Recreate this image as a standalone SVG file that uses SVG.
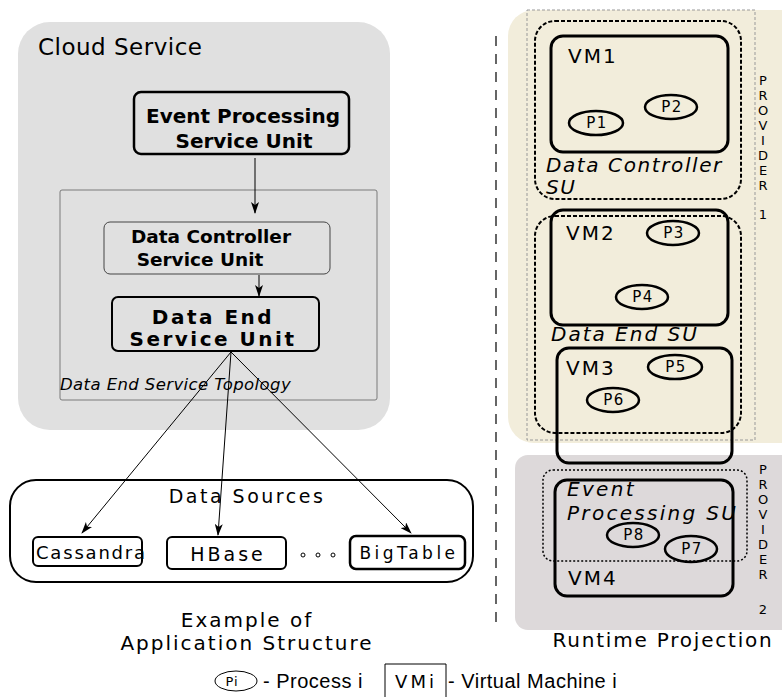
<svg xmlns="http://www.w3.org/2000/svg" width="782" height="697" viewBox="0 0 782 697">
<defs>
<marker id="arr" viewBox="0 0 12 8" refX="11" refY="4" markerWidth="12" markerHeight="8" markerUnits="userSpaceOnUse" orient="auto">
<path d="M0,0 L12,4 L0,8 L3,4 z" fill="#000"/>
</marker>
<style>
.t{font-family:"DejaVu Sans",Verdana,sans-serif;fill:#000}
.b{font-weight:bold}
.i{font-style:italic}
.vm{fill:none;stroke:#000;stroke-width:3}
.proc{fill:none;stroke:#000;stroke-width:2.5}
.pt{font-family:"DejaVu Sans",sans-serif;font-size:15px;letter-spacing:1.5px;text-anchor:middle}
.su{fill:none;stroke:#000;stroke-width:2;stroke-dasharray:4 2}
.conn{stroke:#000;stroke-width:1;fill:none;marker-end:url(#arr)}
.prov{font-family:"DejaVu Sans",sans-serif;font-size:13px;text-anchor:middle;fill:#000}
.lg{font-family:"Liberation Sans",Arial,sans-serif;font-size:20px;letter-spacing:0.5px}
</style>
</defs>
<rect width="782" height="697" fill="#fff"/>

<!-- Left: Cloud Service -->
<g id="cloud-service">
<rect x="18" y="22" width="372" height="408" rx="32" fill="#e0e0e0"/>
<text class="t" x="38" y="55" font-size="23" letter-spacing="0.5">Cloud Service</text>
</g>
<g id="topology">
<rect x="60" y="190" width="317" height="210" rx="2" fill="none" stroke="#7a7a7a" stroke-width="1"/>
<text class="t i" x="60" y="390" font-size="16.5" letter-spacing="0.4">Data End Service Topology</text>
</g>
<g id="event-processing-su">
<rect x="134" y="92" width="215" height="62" rx="7" fill="none" stroke="#000" stroke-width="2.5"/>
<text class="t b" x="243" y="123" font-size="20" text-anchor="middle">Event Processing</text>
<text class="t b" x="244" y="148" font-size="20" text-anchor="middle">Service Unit</text>
</g>
<g id="data-controller-su">
<rect x="104" y="222" width="226" height="52" rx="6" fill="none" stroke="#444" stroke-width="1"/>
<text class="t b" x="211" y="243" font-size="18.5" text-anchor="middle">Data Controller</text>
<text class="t b" x="200" y="266" font-size="18.5" text-anchor="middle">Service Unit</text>
</g>
<g id="data-end-su">
<rect x="112" y="297" width="207" height="54" rx="6" fill="none" stroke="#000" stroke-width="2"/>
<text class="t b" x="213" y="324" font-size="20" text-anchor="middle" letter-spacing="2.5">Data End</text>
<text class="t b" x="213" y="346" font-size="20" text-anchor="middle" letter-spacing="2.5">Service Unit</text>
</g>

<!-- Data sources -->
<g id="data-sources">
<rect x="10" y="480" width="463" height="102" rx="26" fill="none" stroke="#000" stroke-width="2"/>
<text class="t" x="247" y="503" font-size="19" text-anchor="middle" letter-spacing="2.5">Data Sources</text>
</g>
<g id="cassandra">
<rect x="33" y="537" width="109" height="29" rx="5" fill="none" stroke="#000" stroke-width="2"/>
<text class="t" x="36" y="559" font-size="18" letter-spacing="1.8">Cassandra</text>
</g>
<g id="hbase">
<rect x="167" y="537" width="119" height="32" rx="5" fill="none" stroke="#000" stroke-width="2"/>
<text class="t" x="228" y="561" font-size="19" text-anchor="middle" letter-spacing="3">HBase</text>
</g>
<g id="ellipsis">
<circle cx="303" cy="555" r="2" fill="none" stroke="#000" stroke-width="1"/>
<circle cx="318" cy="555" r="2" fill="none" stroke="#000" stroke-width="1"/>
<circle cx="333" cy="555" r="2" fill="none" stroke="#000" stroke-width="1"/>
</g>
<g id="bigtable">
<rect x="350" y="536" width="115" height="33" rx="6" fill="none" stroke="#000" stroke-width="2.5"/>
<text class="t" x="409" y="559" font-size="17" text-anchor="middle" letter-spacing="3.5">BigTable</text>
</g>

<g id="connectors">
<line class="conn" x1="255" y1="158" x2="255" y2="213"/>
<line class="conn" x1="259" y1="275" x2="259" y2="296"/>
<line class="conn" x1="231" y1="352" x2="82" y2="533"/>
<line class="conn" x1="231" y1="352" x2="218" y2="535"/>
<line class="conn" x1="231" y1="352" x2="411" y2="533"/>
</g>

<text class="t" x="247" y="627" font-size="20" text-anchor="middle" letter-spacing="2">Example of</text>
<text class="t" x="247" y="650" font-size="20" text-anchor="middle" letter-spacing="2">Application Structure</text>

<line x1="496" y1="36" x2="496" y2="626" stroke="#000" stroke-width="1.2" stroke-dasharray="10 8"/>

<!-- Right: Runtime projection -->
<g id="provider-1">
<rect x="508" y="10" width="300" height="433" rx="26" fill="#f2eddb"/>
<rect x="527" y="10" width="228" height="430" fill="none" stroke="#999" stroke-width="1" stroke-dasharray="3 2"/>
<text class="prov" x="763" y="85">P</text>
<text class="prov" x="763" y="100">R</text>
<text class="prov" x="763" y="115">O</text>
<text class="prov" x="763" y="130">V</text>
<text class="prov" x="763" y="145">I</text>
<text class="prov" x="763" y="160">D</text>
<text class="prov" x="763" y="175">E</text>
<text class="prov" x="763" y="190">R</text>
<text class="prov" x="763" y="219">1</text>
</g>
<g id="provider-2">
<rect x="515" y="455" width="280" height="175" rx="13" fill="#ddd9da"/>
<text class="prov" x="763" y="474">P</text>
<text class="prov" x="763" y="489">R</text>
<text class="prov" x="763" y="504">O</text>
<text class="prov" x="763" y="519">V</text>
<text class="prov" x="763" y="534">I</text>
<text class="prov" x="763" y="549">D</text>
<text class="prov" x="763" y="564">E</text>
<text class="prov" x="763" y="579">R</text>
<text class="prov" x="763" y="614">2</text>
</g>

<g id="data-controller-su-runtime">
<rect class="su" x="535" y="21" width="206" height="178" rx="20"/>
<text class="t i" x="546" y="172" font-size="20" letter-spacing="1.6">Data Controller</text>
<text class="t i" x="546" y="194" font-size="20" letter-spacing="1.6">SU</text>
</g>
<g id="vm1">
<rect class="vm" x="551" y="36" width="177" height="116" rx="12"/>
<text class="t" x="568" y="63" font-size="20" letter-spacing="2">VM1</text>
</g>
<g id="p1"><ellipse class="proc" cx="596" cy="123" rx="27" ry="12"/><text class="pt" x="597" y="128">P1</text></g>
<g id="p2"><ellipse class="proc" cx="671" cy="107" rx="26" ry="12"/><text class="pt" x="672" y="112">P2</text></g>

<g id="data-end-su-runtime">
<rect class="su" x="535" y="216" width="206" height="217" rx="20"/>
<text class="t i" x="551" y="341" font-size="20" letter-spacing="2">Data End SU</text>
</g>
<g id="vm2">
<rect class="vm" x="551" y="210" width="177" height="115" rx="12"/>
<text class="t" x="566" y="240" font-size="20" letter-spacing="2">VM2</text>
</g>
<g id="p3"><ellipse class="proc" cx="673" cy="233" rx="26" ry="12"/><text class="pt" x="674" y="238">P3</text></g>
<g id="p4"><ellipse class="proc" cx="642" cy="297" rx="26" ry="12"/><text class="pt" x="643" y="302">P4</text></g>
<g id="vm3">
<rect class="vm" x="557" y="348" width="175" height="115" rx="12"/>
<text class="t" x="566" y="375" font-size="20" letter-spacing="2">VM3</text>
</g>
<g id="p5"><ellipse class="proc" cx="675" cy="367" rx="27" ry="12"/><text class="pt" x="676" y="372">P5</text></g>
<g id="p6"><ellipse class="proc" cx="613" cy="400" rx="26" ry="12"/><text class="pt" x="614" y="405">P6</text></g>

<g id="event-processing-su-runtime">
<rect x="543" y="470" width="204" height="91" rx="10" fill="none" stroke="#000" stroke-width="1.5" stroke-dasharray="2 2"/>
<text class="t i" x="567" y="496" font-size="20" letter-spacing="2.3">Event</text>
<text class="t i" x="567" y="520" font-size="20" letter-spacing="2.3">Processing SU</text>
</g>
<g id="vm4">
<rect class="vm" x="555" y="480" width="178" height="116" rx="12"/>
<text class="t" x="568" y="585" font-size="20" letter-spacing="2">VM4</text>
</g>
<g id="p8"><ellipse class="proc" cx="633" cy="535" rx="26" ry="12"/><text class="pt" x="634" y="540">P8</text></g>
<g id="p7"><ellipse class="proc" cx="691" cy="549" rx="26" ry="13"/><text class="pt" x="692" y="554">P7</text></g>

<text class="t" x="663" y="647" font-size="20" text-anchor="middle" letter-spacing="1.8">Runtime Projection</text>

<!-- Legend -->
<g id="legend">
<ellipse cx="236" cy="681" rx="21" ry="10" fill="none" stroke="#000" stroke-width="1"/>
<text x="232" y="686" font-family="DejaVu Sans,sans-serif" font-size="13" text-anchor="middle" letter-spacing="1">Pi</text>
<text class="lg" x="263" y="688">- Process i</text>
<path d="M446,664 L385,664 L385,697 M446,664 L446,697" fill="none" stroke="#000" stroke-width="1"/>
<text x="416" y="688" font-family="DejaVu Sans,sans-serif" font-size="18" text-anchor="middle" letter-spacing="3">VMi</text>
<text class="lg" x="448" y="688">- Virtual Machine i</text>
</g>
</svg>
